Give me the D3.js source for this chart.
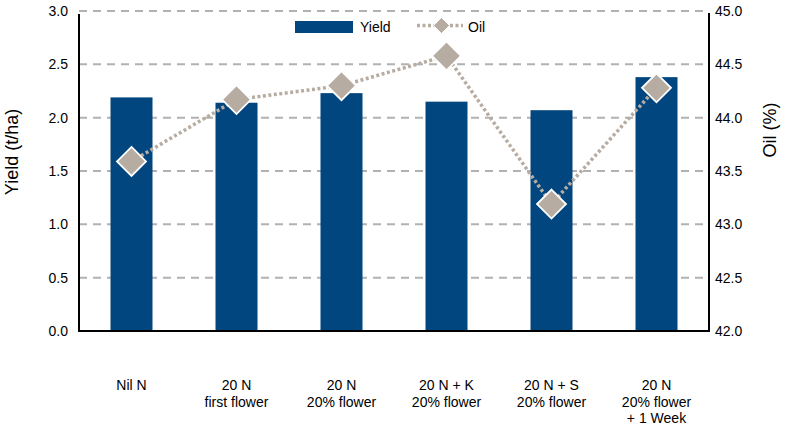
<!DOCTYPE html>
<html>
<head>
<meta charset="utf-8">
<script src="https://cdn.jsdelivr.net/npm/d3@7/dist/d3.min.js"></script>
<style>
  html, body { margin: 0; padding: 0; background: #fff; }
  svg { display: block; font-family: "Liberation Sans", Arial, Helvetica, sans-serif; }
</style>
</head>
<body>
<svg id="chart" width="786" height="428"></svg>
<script>
const categories = [
  ["Nil N"],
  ["20 N", "first flower"],
  ["20 N", "20% flower"],
  ["20 N + K", "20% flower"],
  ["20 N + S", "20% flower"],
  ["20 N", "20% flower", "+ 1 Week"]
];
const yieldValues = [2.19, 2.14, 2.23, 2.15, 2.07, 2.38];
const oilValues = [43.59, 44.17, 44.3, 44.58, 43.19, 44.28];
const yieldTicks = [0, 0.5, 1.0, 1.5, 2.0, 2.5, 3.0];
const oilTicks = [42, 42.5, 43, 43.5, 44, 44.5, 45];

const svg = d3.select("#chart");
const plotLeft = 79, plotRight = 709, plotTop = 11, plotBottom = 331;

const x = d3.scaleBand().domain(d3.range(categories.length))
  .range([plotLeft, plotRight]).paddingInner(0.6).paddingOuter(0.3);
const yL = d3.scaleLinear().domain([0, 3]).range([plotBottom, plotTop]);
const yR = d3.scaleLinear().domain([42, 45]).range([plotBottom, plotTop]);

const gridColor = "#b1b1b1";
const barColor = "#01467f";
const oilColor = "#b7aca2";

// gridlines
svg.append("g").selectAll("line").data(yieldTicks.filter(d => d > 0)).join("line")
  .attr("x1", plotLeft).attr("x2", plotRight)
  .attr("y1", d => yL(d)).attr("y2", d => yL(d))
  .attr("stroke", gridColor).attr("stroke-width", 2).attr("stroke-dasharray", "8,6");

// bars
svg.append("g").selectAll("rect").data(yieldValues).join("rect")
  .attr("x", (d, i) => x(i)).attr("width", x.bandwidth())
  .attr("y", d => yL(d)).attr("height", d => yL(0) - yL(d))
  .attr("fill", barColor);

// axes lines
const axisG = svg.append("g").attr("stroke", "#000").attr("stroke-width", 2);
axisG.append("line").attr("x1", plotLeft).attr("x2", plotLeft).attr("y1", plotTop + 3).attr("y2", plotBottom + 1);
axisG.append("line").attr("x1", plotRight).attr("x2", plotRight).attr("y1", plotTop + 2).attr("y2", plotBottom + 1);
axisG.append("line").attr("x1", plotLeft - 1).attr("x2", plotRight + 1).attr("y1", plotBottom).attr("y2", plotBottom);

// left tick labels
svg.append("g").selectAll("text").data(yieldTicks).join("text")
  .attr("x", plotLeft - 11).attr("y", d => yL(d)).attr("dy", "0.35em")
  .attr("text-anchor", "end").attr("font-size", 14).attr("fill", "#000")
  .text(d => d3.format(".1f")(d));

// right tick labels
svg.append("g").selectAll("text").data(oilTicks).join("text")
  .attr("x", plotRight + 6).attr("y", d => yR(d)).attr("dy", "0.35em")
  .attr("text-anchor", "start").attr("font-size", 14).attr("fill", "#000")
  .text(d => d3.format(".1f")(d));

// axis titles
svg.append("text").attr("transform", "translate(18,152) rotate(-90)")
  .attr("text-anchor", "middle").attr("font-size", 18).text("Yield (t/ha)");
svg.append("text").attr("transform", "translate(776,130) rotate(-90)")
  .attr("text-anchor", "middle").attr("font-size", 18).text("Oil (%)");

// oil line
const cx = i => x(i) + x.bandwidth() / 2;
svg.append("path").datum(oilValues)
  .attr("d", d3.line().x((d, i) => cx(i)).y(d => yR(d)))
  .attr("fill", "none").attr("stroke", oilColor).attr("stroke-width", 3.5)
  .attr("stroke-dasharray", "3,2.5");

const diamond = h => `M0,${-h}L${h},0L0,${h}L${-h},0Z`;
svg.append("g").selectAll("path").data(oilValues).join("path")
  .attr("transform", (d, i) => `translate(${cx(i)},${yR(d)})`)
  .attr("d", diamond(14.5))
  .attr("fill", oilColor).attr("stroke", "#fff").attr("stroke-width", 1.8);

// x labels
const xl = svg.append("g").selectAll("text").data(categories).join("text")
  .attr("x", (d, i) => cx(i)).attr("y", 390)
  .attr("text-anchor", "middle").attr("font-size", 14).attr("fill", "#000");
xl.selectAll("tspan").data(d => d).join("tspan")
  .attr("x", function() { return this.parentNode.getAttribute("x"); })
  .attr("dy", (d, i) => i === 0 ? 0 : 16.5)
  .text(d => d);

// legend
const lg = svg.append("g");
lg.append("rect").attr("x", 295).attr("y", 21).attr("width", 58).attr("height", 12).attr("fill", barColor);
lg.append("text").attr("x", 360).attr("y", 32).attr("font-size", 14).text("Yield");
lg.append("line").attr("x1", 417).attr("x2", 463).attr("y1", 25.5).attr("y2", 25.5)
  .attr("stroke", oilColor).attr("stroke-width", 3.5).attr("stroke-dasharray", "3,2.5");
lg.append("path").attr("transform", "translate(441.5,25.5)").attr("d", diamond(8))
  .attr("fill", oilColor).attr("stroke", "#fff").attr("stroke-width", 1);
lg.append("text").attr("x", 468).attr("y", 32).attr("font-size", 14).text("Oil");
</script>
</body>
</html>
